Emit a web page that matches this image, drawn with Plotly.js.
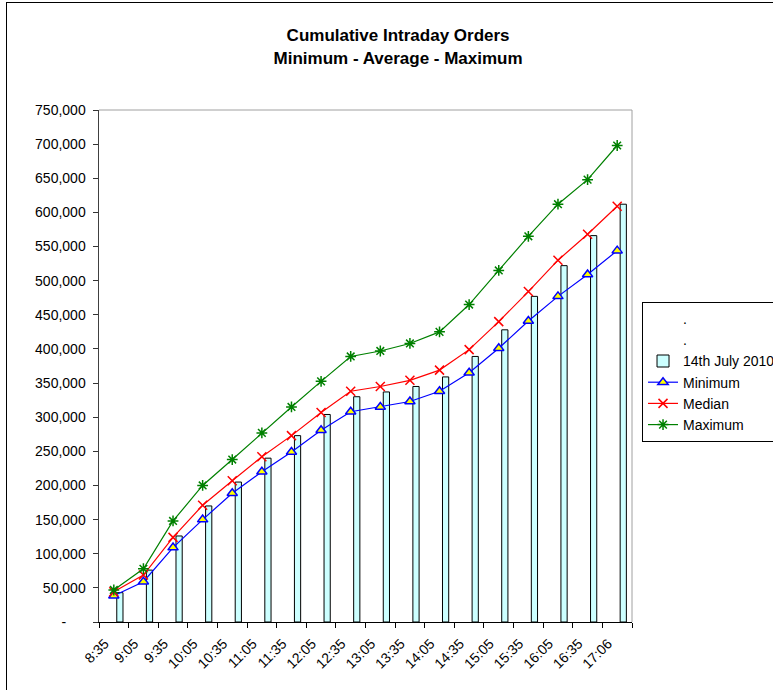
<!DOCTYPE html>
<html>
<head>
<meta charset="utf-8">
<script src="https://cdn.plot.ly/plotly-3.0.1.min.js"></script>
<style>
  html, body { margin: 0; padding: 0; background: #fff; }
  #chart { width: 773px; height: 690px; position: absolute; left: 0; top: 0; }
  #frame { position: absolute; left: 6px; top: 2px; width: 900px; height: 900px;
           border-left: 1px solid #000; border-top: 1px solid #000; pointer-events: none; }
</style>
</head>
<body>
<div id="chart"></div>
<div id="frame"></div>
<script>
const categories = ['8:35','9:05','9:35','10:05','10:35','11:05','11:35','12:05','12:35',
                    '13:05','13:35','14:05','14:35','15:05','15:35','16:05','16:35','17:06'];
const july14 = [43000, 76000, 126000, 170000, 205000, 240000, 273000, 304000, 330000,
                337000, 345000, 359000, 389000, 428000, 477000, 522000, 566000, 612000];
const minimum = [38500, 59000, 109000, 150000, 188500, 220000, 249000, 281000, 308000,
                 315000, 323000, 338000, 365000, 401000, 441000, 477000, 509000, 544000];
const median = [44400, 68800, 124000, 171000, 207000, 242000, 273000, 307000, 338000,
                345000, 354000, 369000, 399000, 440000, 484000, 530000, 568000, 609000];
const maximum = [46900, 78000, 148000, 200000, 238000, 277000, 315000, 352500, 389000,
                 397000, 408000, 425000, 465000, 515000, 565000, 612000, 648000, 698000];
const yTickVals = [0,50000,100000,150000,200000,250000,300000,350000,400000,450000,500000,550000,600000,650000,700000,750000];
const yTickText = ['-\u00a0\u00a0\u00a0\u00a0\u00a0','50,000','100,000','150,000','200,000','250,000','300,000','350,000',
                   '400,000','450,000','500,000','550,000','600,000','650,000','700,000','750,000'];

const FONT = 'Liberation Sans, Arial, sans-serif';

function blank() {
  return { type: 'scatter', mode: 'markers', name: '.', x: [categories[0]], y: [-100000],
           marker: {color: 'rgba(0,0,0,0)', size: 1, line: {width: 0}}, hoverinfo: 'skip', cliponaxis: true };
}

const traces = [
  blank(), blank(),
  { type: 'bar', name: '14th July 2010', x: categories, y: july14, offset: 0.1, width: 0.21,
    marker: {color: '#CCFFFF', line: {color: '#000000', width: 1}} },
  { type: 'scatter', mode: 'lines+markers', name: 'Minimum', x: categories, y: minimum,
    line: {color: '#0000FF', width: 1.2},
    marker: {symbol: 'triangle-up', size: 9, color: '#FFFF00', line: {color: '#0000FF', width: 1.5}} },
  { type: 'scatter', mode: 'lines+markers', name: 'Median', x: categories, y: median,
    line: {color: '#FF0000', width: 1.2},
    marker: {symbol: 'x-thin-open', size: 9, color: '#FF0000', line: {color: '#FF0000', width: 1.5}} },
  { type: 'scatter', mode: 'lines+markers', name: 'Maximum', x: categories, y: maximum,
    line: {color: '#008000', width: 1.2},
    marker: {symbol: 'asterisk-open', size: 9, color: '#008000', line: {color: '#008000', width: 1.5}} }
];

const layout = {
  width: 773, height: 690,
  margin: {l: 99, r: 141, t: 110, b: 68, pad: 0, autoexpand: false},
  paper_bgcolor: '#ffffff', plot_bgcolor: '#ffffff',
  font: {family: FONT, size: 14, color: '#000'},
  showlegend: true,
  barmode: 'overlay',
  title: {
    text: 'Cumulative Intraday Orders<br>Minimum - Average - Maximum',
    font: {family: FONT, size: 17, weight: 'bold', color: '#000'},
    x: 0.515, xref: 'container', xanchor: 'center',
    y: 0.94, yref: 'container', yanchor: 'top'
  },
  xaxis: {
    type: 'category', categoryorder: 'array', categoryarray: categories,
    range: [-0.5, 17.5],
    tickson: 'boundaries', ticks: 'outside', ticklen: 5, tickcolor: '#000', tickwidth: 1,
    tickangle: -45, tickfont: {family: FONT, size: 14, color: '#000'},
    ticklabelstandoff: 7, ticklabelshift: -9,
    showline: true, linecolor: '#000', linewidth: 1,
    showgrid: false, zeroline: false, fixedrange: true, automargin: false
  },
  yaxis: {
    range: [0, 750000], tickvals: yTickVals, ticktext: yTickText,
    ticks: 'outside', ticklen: 5, tickcolor: '#333', tickwidth: 1,
    ticklabelstandoff: 4,
    tickfont: {family: FONT, size: 14, color: '#000'},
    showline: true, linecolor: '#404040', linewidth: 1.5,
    showgrid: false, zeroline: false, fixedrange: true, automargin: false
  },
  legend: {
    x: 1.0188, xanchor: 'left', y: 0.625, yanchor: 'top',
    bgcolor: '#ffffff', bordercolor: '#000', borderwidth: 1,
    font: {family: FONT, size: 14, color: '#000'},
    itemwidth: 30, tracegroupgap: 0, traceorder: 'normal'
  },
  shapes: [
    {type: 'line', xref: 'paper', yref: 'paper', x0: 0, x1: 1, y0: 1, y1: 1, line: {color: '#a0a0a0', width: 1}},
    {type: 'line', xref: 'paper', yref: 'paper', x0: 1, x1: 1, y0: 0, y1: 1, line: {color: '#a0a0a0', width: 1}}
  ]
};

Plotly.newPlot('chart', traces, layout, {displayModeBar: false, staticPlot: true});
</script>
</body>
</html>
